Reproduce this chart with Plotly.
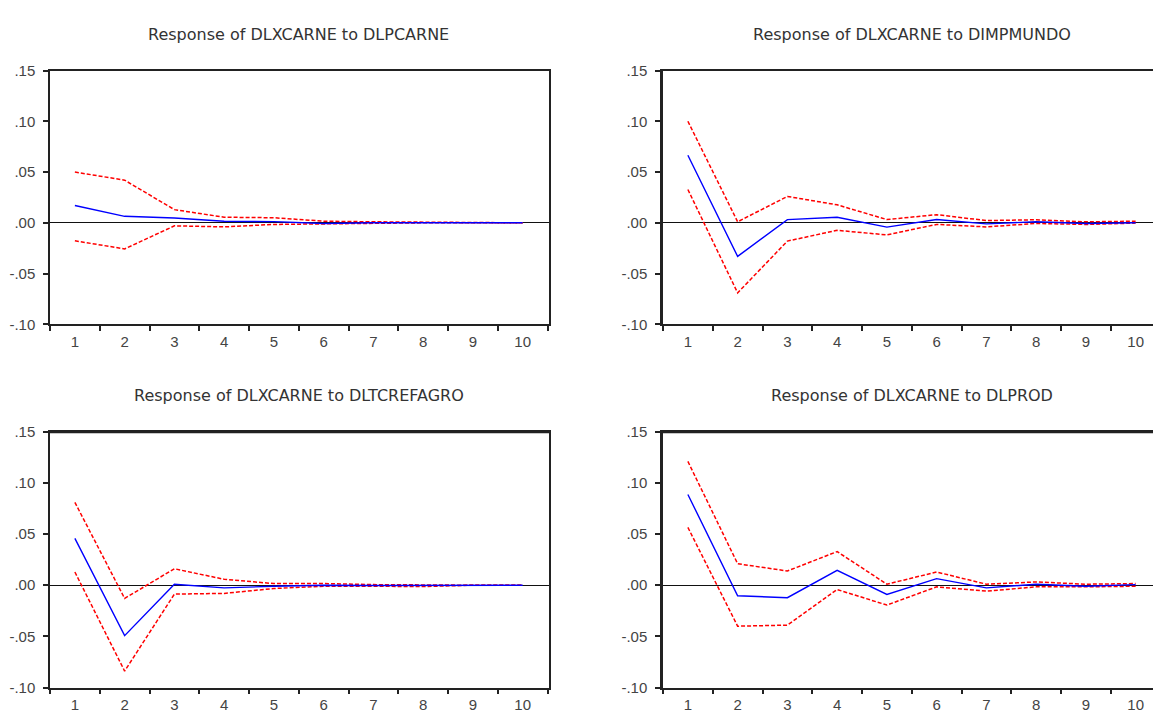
import plotly.graph_objects as go

periods = ["1", "2", "3", "4", "5", "6", "7", "8", "9", "10"]

titles = [
    "Response of DLXCARNE to DLPCARNE",
    "Response of DLXCARNE to DIMPMUNDO",
    "Response of DLXCARNE to DLTCREFAGRO",
    "Response of DLXCARNE to DLPROD",
]

resp_dlpcarne = [0.0170, 0.0064, 0.0048, 0.0016, 0.0012, -0.0006, 0.0000, 0.0000, 0.0000, 0.0000]
upper_dlpcarne = [0.0500, 0.0420, 0.0130, 0.0055, 0.0050, 0.0016, 0.0010, 0.0006, 0.0000, 0.0000]
lower_dlpcarne = [-0.0177, -0.0257, -0.0030, -0.0040, -0.0016, -0.0010, -0.0003, 0.0000, 0.0000, 0.0000]

resp_dimpmundo = [0.0666, -0.0331, 0.0032, 0.0055, -0.0042, 0.0032, -0.0010, 0.0010, -0.0006, 0.0000]
upper_dimpmundo = [0.1000, 0.0010, 0.0260, 0.0177, 0.0032, 0.0080, 0.0022, 0.0030, 0.0010, 0.0016]
lower_dimpmundo = [0.0328, -0.0690, -0.0180, -0.0074, -0.0119, -0.0016, -0.0040, -0.0006, -0.0016, -0.0003]

resp_dltcrefagro = [0.0458, -0.0493, 0.0010, -0.0026, -0.0010, 0.0000, -0.0003, 0.0000, 0.0000, 0.0000]
upper_dltcrefagro = [0.0810, -0.0129, 0.0161, 0.0058, 0.0016, 0.0016, 0.0006, 0.0000, 0.0000, 0.0000]
lower_dltcrefagro = [0.0129, -0.0839, -0.0087, -0.0080, -0.0032, -0.0010, -0.0010, -0.0013, 0.0000, 0.0000]

resp_dlprod = [0.0887, -0.0103, -0.0122, 0.0145, -0.0090, 0.0064, -0.0026, 0.0010, -0.0010, 0.0006]
upper_dlprod = [0.1210, 0.0210, 0.0139, 0.0329, 0.0010, 0.0129, 0.0010, 0.0032, 0.0010, 0.0016]
lower_dlprod = [0.0565, -0.0400, -0.0390, -0.0042, -0.0194, -0.0016, -0.0058, -0.0016, -0.0016, -0.0010]

y_tickvals = [0.15, 0.10, 0.05, 0.00, -0.05, -0.10]
y_ticktext = [".15", ".10", ".05", ".00", "-.05", "-.10"]

panels = [
    (resp_dlpcarne, upper_dlpcarne, lower_dlpcarne),
    (resp_dimpmundo, upper_dimpmundo, lower_dimpmundo),
    (resp_dltcrefagro, upper_dltcrefagro, lower_dltcrefagro),
    (resp_dlprod, upper_dlprod, lower_dlprod),
]

W, H = 1153, 718
# pixel boxes: (left, right, top, bottom)
boxes = [
    (50, 549, 63, 323),
    (663, 1153, 63, 323),
    (50, 549, 433, 695),
    (663, 1153, 433, 695),
]
cat_w = 49.75

fig = go.Figure()
layout = {}
annotations = []
shapes = []
for i, ((resp, up, lo), (l, r, t, b)) in enumerate(zip(panels, boxes)):
    n = i + 1
    xa = "x" if n == 1 else f"x{n}"
    ya = "y" if n == 1 else f"y{n}"
    fig.add_trace(go.Scatter(x=periods, y=up, mode="lines", xaxis=xa, yaxis=ya,
                             line=dict(color="#ff0000", width=1.5, dash="4px,2px"), showlegend=False))
    fig.add_trace(go.Scatter(x=periods, y=lo, mode="lines", xaxis=xa, yaxis=ya,
                             line=dict(color="#ff0000", width=1.5, dash="4px,2px"), showlegend=False))
    fig.add_trace(go.Scatter(x=periods, y=resp, mode="lines", xaxis=xa, yaxis=ya,
                             line=dict(color="#0000ff", width=1.4), showlegend=False))
    right_cut = (r - l) / cat_w - 0.5
    layout[f"xaxis{'' if n == 1 else n}"] = dict(
        domain=[l / W, r / W], anchor=ya, type="category",
        categoryorder="array", categoryarray=periods,
        range=[-0.5, right_cut], tickson="boundaries", ticks="outside", ticklen=5,
        tickwidth=1.5, tickcolor="#222", showline=True, linecolor="#222", linewidth=1.5,
        mirror=True, showgrid=False, zeroline=False,
        tickfont=dict(family="Liberation Sans, Arial", size=15, color="#444"),
        ticklabelstandoff=3,
    )
    layout[f"yaxis{'' if n == 1 else n}"] = dict(
        domain=[1 - b / H, 1 - t / H], anchor=xa, range=[-0.10, 0.15],
        tickmode="array", tickvals=y_tickvals, ticktext=y_ticktext,
        ticks="outside", ticklen=5, tickwidth=1.5, tickcolor="#222",
        showline=True, linecolor="#222", linewidth=2.5 if n in (2, 4) else 1.5,
        mirror=(n in (1, 3)), showgrid=False, zeroline=True, zerolinecolor="#111",
        zerolinewidth=1.2,
        tickfont=dict(family="Liberation Sans, Arial", size=15, color="#444"),
        ticklabelstandoff=5,
    )
    if n in (3, 4):
        shapes.append(dict(type="line", xref=f"{xa} domain", yref=f"{ya} domain",
                           x0=0, x1=1, y0=1, y1=1, line=dict(color="#222", width=3)))
    annotations.append(dict(
        text=titles[i], xref="paper", yref="paper",
        x=((l + (l + 10 * cat_w)) / 2) / W, y=1 - (26 if t < 200 else 396) / H,
        xanchor="center", yanchor="middle", showarrow=False,
        font=dict(family="DejaVu Sans, Arial", size=16, color="#333"),
    ))

fig.update_layout(
    width=W, height=H, margin=dict(l=0, r=0, t=0, b=0),
    paper_bgcolor="white", plot_bgcolor="white",
    annotations=annotations, shapes=shapes, **layout,
)

fig.write_html("out.html")
